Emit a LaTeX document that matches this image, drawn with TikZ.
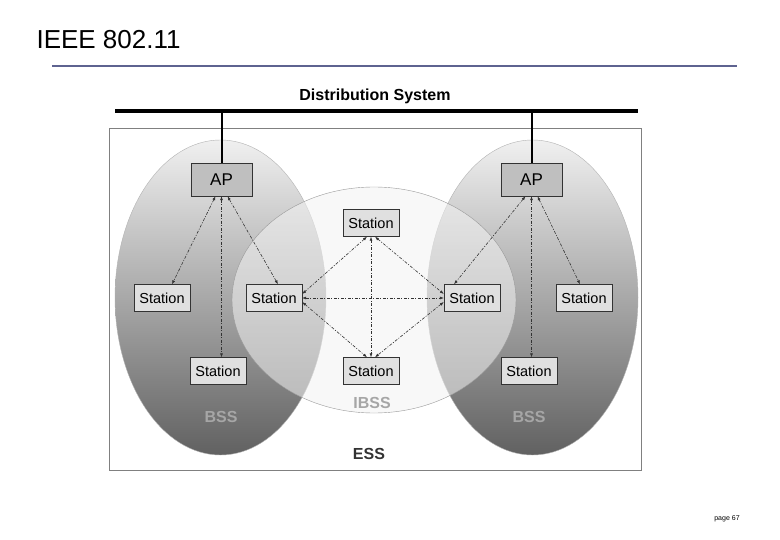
\documentclass[tikz,border=0pt]{standalone}
\usepackage{fontspec}
\setmainfont{Liberation Sans}
\usetikzlibrary{arrows.meta}
\definecolor{rulec}{HTML}{5E6390}
\begin{document}
\begin{tikzpicture}[x=1pt,y=-1pt,
  sta/.style={draw=black!80,fill=black!12,minimum width=56pt,minimum height=27pt,inner sep=0pt,font=\fontsize{14.5}{14.5}\selectfont},
  ap/.style={draw=black!80,fill=black!25,minimum width=61pt,minimum height=33pt,inner sep=0pt,font=\fontsize{17}{17}\selectfont},
  lnk/.style={black!80,line width=0.6pt,dash pattern=on 3pt off 1.5pt on 1pt off 1.5pt,{Latex[length=4pt,width=3pt]}-{Latex[length=4pt,width=3pt]}},
  gl/.style={font=\bfseries\fontsize{16}{16}\selectfont,text=black!35}]
\useasboundingbox (0,0) rectangle (780,540);
\node[font=\fontsize{26}{26}\selectfont,anchor=west] (title) at (33,40) {IEEE 802.11};
\draw[rulec,line width=2pt] (52,66) -- (737,66);
\node[font=\bfseries\fontsize{16}{16}\selectfont] (ds) at (375,96) {Distribution System};
\draw[black!50,line width=0.8pt,fill=white] (109,128) rectangle (641,470);
\shade[top color=black!6,bottom color=black!62,draw=black!30] (220.5,297.5) ellipse [x radius=105.5,y radius=157.5];
\shade[top color=black!6,bottom color=black!62,draw=black!30] (532.5,297.5) ellipse [x radius=105.5,y radius=157.5];
\fill[white,fill opacity=0.35] (374,300) ellipse [x radius=142,y radius=113];
\fill[black!8,fill opacity=0.3] (374,300) ellipse [x radius=142,y radius=113];
\draw[black!40] (374,300) ellipse [x radius=142,y radius=113];
\draw[black,line width=4pt] (115,111) -- (638,111);
\node[ap] (ap1) at (221.5,179.5) {AP};
\node[ap] (ap2) at (531.5,179.5) {AP};
\coordinate (b1) at (ap1.north |- 0,111);
\coordinate (b2) at (ap2.north |- 0,111);
\draw[line width=2pt] (b1) -- (ap1.north);
\draw[line width=2pt] (b2) -- (ap2.north);
\node[sta] (t) at (371,223) {Station};
\node[sta] (m1) at (162,298) {Station};
\node[sta] (m2) at (274,298) {Station};
\node[sta] (m3) at (472,298) {Station};
\node[sta] (m4) at (584,298) {Station};
\node[sta] (d1) at (218,371) {Station};
\node[sta] (d2) at (371,371) {Station};
\node[sta] (d3) at (529,371) {Station};
\draw[lnk] ([xshift=-6pt]ap1.south) -- ([xshift=10pt]m1.north);
\draw[lnk] (ap1.south) -- (ap1.south |- d1.north);
\draw[lnk] ([xshift=6pt]ap1.south) -- ([xshift=4pt]m2.north);
\draw[lnk] ([xshift=-6pt]ap2.south) -- ([xshift=-18pt]m3.north);
\draw[lnk] (ap2.south) -- (ap2.south |- d3.north);
\draw[lnk] ([xshift=6pt]ap2.south) -- ([xshift=-4pt]m4.north);
\draw[lnk] ([xshift=-4pt]t.south) -- ([yshift=4pt]m2.east);
\draw[lnk] ([xshift=4pt]t.south) -- ([yshift=4pt]m3.west);
\draw[lnk] (t.south) -- (d2.north);
\draw[lnk] (m2.east) -- (m3.west);
\draw[lnk] ([yshift=-4pt]m2.east) -- ([xshift=-4pt]d2.north);
\draw[lnk] ([yshift=-4pt]m3.west) -- ([xshift=4pt]d2.north);
\node[gl] (bss1) at (221,417) {BSS};
\node[gl] (bss2) at (529,417) {BSS};
\node[gl] (ibss) at (372,403) {IBSS};
\node[font=\bfseries\fontsize{16}{16}\selectfont,text=black!80] (ess) at (369,454) {ESS};
\node[font=\fontsize{7}{7}\selectfont] (pg) at (727,519) {page 67};
\end{tikzpicture}
\end{document}
